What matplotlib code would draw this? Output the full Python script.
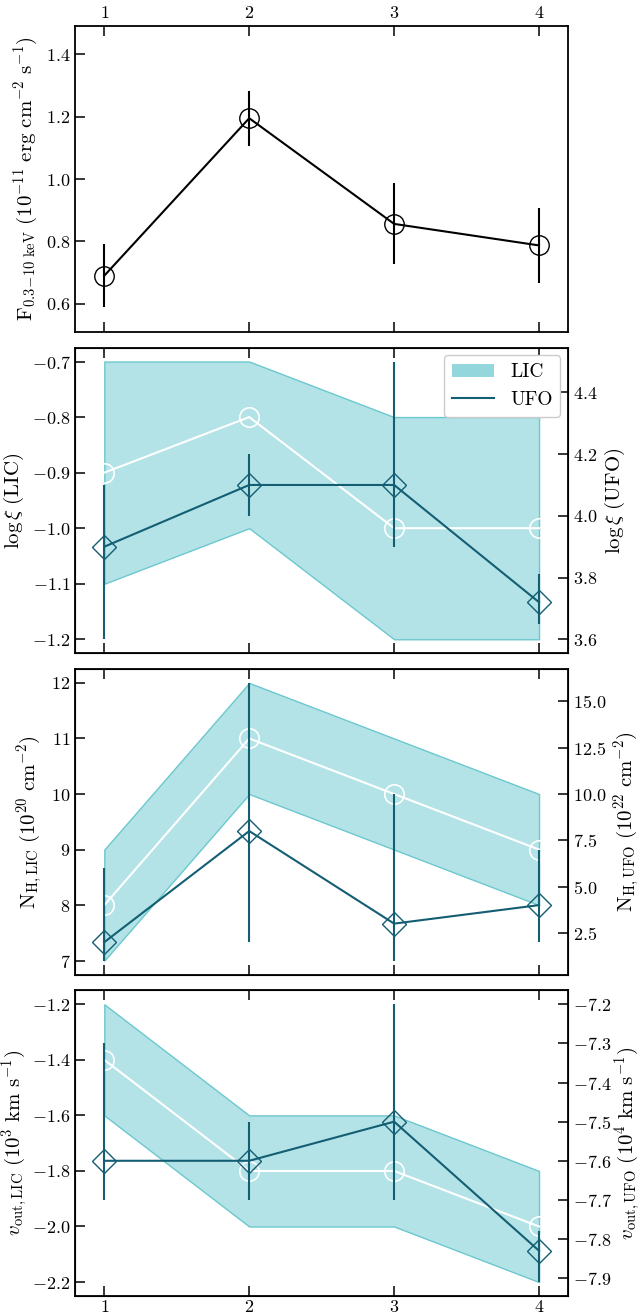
import numpy as np
import matplotlib
matplotlib.use("Agg")
from matplotlib import pyplot as plt
from matplotlib.patches import Patch
from matplotlib.lines import Line2D

plt.rcParams['font.family'] = 'serif'
plt.rcParams['font.serif'] = ['cmr10', 'DejaVu Serif']
plt.rcParams['mathtext.fontset'] = 'cm'
plt.rcParams['axes.formatter.use_mathtext'] = True
plt.rcParams['axes.unicode_minus'] = True

obs = [1, 2, 3, 4]

# flux
flux = [0.69, 1.195, 0.856, 0.787]
flux_lo = [0.10, 0.09, 0.128, 0.12]
flux_hi = [0.10, 0.088, 0.13, 0.12]

# log xi
xi_lic = [-0.9, -0.8, -1.0, -1.0]
xi_lic_lo = [-1.1, -1.0, -1.2, -1.2]
xi_lic_hi = [-0.7, -0.7, -0.8, -0.8]
xi_ufo = [3.9, 4.1, 4.1, 3.72]
xi_ufo_lo = [0.3, 0.1, 0.2, 0.07]
xi_ufo_hi = [0.2, 0.1, 0.4, 0.09]

# column density
nh_lic = [8, 11, 10, 9]
nh_lic_lo = [7, 10, 9, 8]
nh_lic_hi = [9, 12, 11, 10]
nh_ufo = [2, 8, 3, 4]
nh_ufo_lo = [1, 6, 2, 2]
nh_ufo_hi = [4, 8, 7, 3]

# outflow velocity
v_lic = [-1.4, -1.8, -1.8, -2.0]
v_lic_lo = [-1.6, -2.0, -2.0, -2.2]
v_lic_hi = [-1.2, -1.6, -1.6, -1.8]
v_ufo = [-7.6, -7.6, -7.5, -7.83]
v_ufo_lo = [0.1, 0.1, 0.2, 0.08]
v_ufo_hi = [0.3, 0.1, 0.3, 0.05]

fill_c = '#b3e3e7'
edge_c = '#6cc8cf'
ufo_c = '#135e73'
tsize = 13
lsize = 15

fig, axes = plt.subplots(4, 1, figsize=(6.44, 13.13), dpi=100, sharex=True)
fig.subplots_adjust(left=0.117, right=0.882, top=0.980, bottom=0.013, hspace=0.052)


def style(ax, right=False):
    ax.tick_params(axis='both', direction='in', length=7, width=1.1, labelsize=tsize,
                   top=True, bottom=True, right=right)
    for s in ax.spines.values():
        s.set_linewidth(1.3)


ax = axes[0]
ax.errorbar(obs, flux, yerr=[flux_lo, flux_hi], color='k', lw=1.5, elinewidth=1.5,
            marker='o', ms=14, mfc='none', mec='k', mew=1.0)
ax.set_ylim(0.51, 1.49)
ax.set_yticks([0.6, 0.8, 1.0, 1.2, 1.4])
ax.set_ylabel(r'$\mathrm{F_{0.3\!-\!10\ keV}\ (10^{-11}\ erg\ cm^{-2}\ s^{-1})}$', fontsize=lsize)
style(ax)
ax.tick_params(labeltop=True, labelbottom=False)
ax.set_xlim(0.8, 4.2)
ax.set_xticks(obs)

panels = [
    (xi_lic, xi_lic_lo, xi_lic_hi, xi_ufo, xi_ufo_lo, xi_ufo_hi,
     r'$\log\xi\ \mathrm{(LIC)}$', r'$\log\xi\ \mathrm{(UFO)}$'),
    (nh_lic, nh_lic_lo, nh_lic_hi, nh_ufo, nh_ufo_lo, nh_ufo_hi,
     r'$\mathrm{N_{H,LIC}\ (10^{20}\ cm^{-2})}$', r'$\mathrm{N_{H,UFO}\ (10^{22}\ cm^{-2})}$'),
    (v_lic, v_lic_lo, v_lic_hi, v_ufo, v_ufo_lo, v_ufo_hi,
     r'$v_\mathrm{out,LIC}\ \mathrm{(10^{3}\ km\ s^{-1})}$', r'$v_\mathrm{out,UFO}\ \mathrm{(10^{4}\ km\ s^{-1})}$'),
]

for i, (lic, lo, hi, ufo, ulo, uhi, llab, rlab) in enumerate(panels):
    ax = axes[i + 1]
    ax.fill_between(obs, lo, hi, facecolor=fill_c, edgecolor=edge_c, lw=1.0)
    ax.plot(obs, lic, color='white', lw=1.5, marker='o', ms=14, mfc='none', mec='white', mew=1.2)
    pad = 1 if i == 2 else 4
    ax.set_ylabel(llab, fontsize=lsize, labelpad=pad)
    style(ax)
    ax.tick_params(labelbottom=(i == 2))
    tw = ax.twinx()
    tw.errorbar(obs, ufo, yerr=[ulo, uhi], color=ufo_c, lw=1.5, elinewidth=1.5,
                marker='D', ms=12, mfc='none', mec=ufo_c, mew=1.0)
    tw.set_ylabel(rlab, fontsize=lsize, labelpad=pad)
    tw.tick_params(axis='y', direction='in', length=7, width=1.1, labelsize=tsize)
    if i == 0:
        handles = [Patch(facecolor='#93d6dc', edgecolor='none'),
                   Line2D([], [], color=ufo_c, lw=1.5)]
        tw.legend(handles, ['LIC', 'UFO'], loc='upper right', fontsize=14,
                  handlelength=2.2, borderpad=0.4, labelspacing=0.5,
                  borderaxespad=0.4, framealpha=1.0)
    if i == 1:
        tw.set_yticks([2.5, 5.0, 7.5, 10.0, 12.5, 15.0])

axes[3].set_xticks(obs)
axes[3].tick_params(axis='x', pad=2)
fig.savefig('out.png', dpi=100)
